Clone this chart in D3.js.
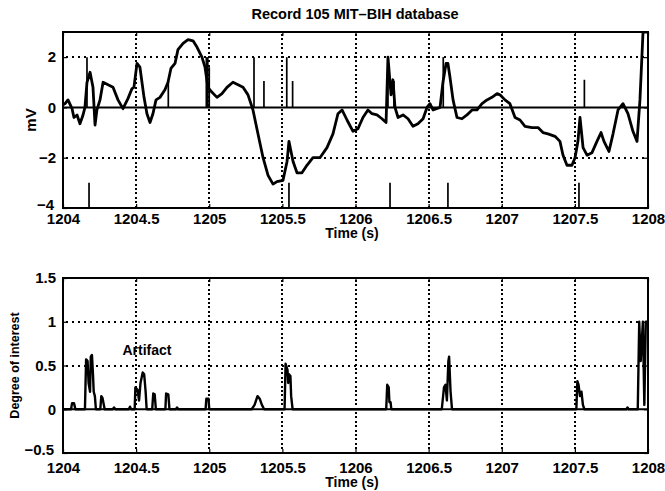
<!doctype html>
<html lang="en">
<head>
<meta charset="utf-8">
<title>Record 105 MIT-BIH database</title>
<script src="https://d3js.org/d3.v7.min.js"></script>
<style>
  body { margin: 0; background: #fff; }
  svg text { font-family: "Liberation Sans", Arial, sans-serif; font-weight: bold; fill: #000; }
</style>
</head>
<body>
<svg></svg>
<script>
// time axis (s)
var xTicks = [1204, 1204.5, 1205, 1205.5, 1206, 1206.5, 1207, 1207.5, 1208];
var ecgTicks = [-4, -2, 0, 2];
var doiTicks = [-0.5, 0, 0.5, 1, 1.5];

// ECG trace, record 105 (mV)
var ecgTime = [1204.000, 1204.014, 1204.034, 1204.062, 1204.075, 1204.096, 1204.116, 1204.137, 1204.150, 1204.164,
  1204.185, 1204.205, 1204.219, 1204.232, 1204.253, 1204.274, 1204.308, 1204.342, 1204.376, 1204.410,
  1204.444, 1204.472, 1204.485, 1204.506, 1204.526, 1204.554, 1204.574, 1204.595, 1204.615, 1204.636,
  1204.663, 1204.697, 1204.718, 1204.738, 1204.766, 1204.786, 1204.821, 1204.855, 1204.889, 1204.916,
  1204.950, 1204.971, 1204.991, 1205.019, 1205.053, 1205.087, 1205.121, 1205.162, 1205.197, 1205.231,
  1205.265, 1205.299, 1205.333, 1205.368, 1205.402, 1205.436, 1205.463, 1205.504, 1205.532, 1205.545,
  1205.573, 1205.600, 1205.634, 1205.668, 1205.709, 1205.757, 1205.805, 1205.846, 1205.880, 1205.908,
  1205.942, 1205.983, 1206.017, 1206.051, 1206.085, 1206.113, 1206.147, 1206.181, 1206.209, 1206.222,
  1206.243, 1206.256, 1206.270, 1206.291, 1206.325, 1206.359, 1206.393, 1206.427, 1206.462, 1206.489,
  1206.509, 1206.530, 1206.578, 1206.598, 1206.619, 1206.632, 1206.646, 1206.667, 1206.694, 1206.728,
  1206.762, 1206.797, 1206.831, 1206.865, 1206.899, 1206.933, 1206.968, 1206.988, 1207.022, 1207.056,
  1207.091, 1207.125, 1207.159, 1207.207, 1207.248, 1207.282, 1207.316, 1207.364, 1207.398, 1207.419,
  1207.446, 1207.480, 1207.501, 1207.521, 1207.535, 1207.556, 1207.583, 1207.617, 1207.651, 1207.679,
  1207.699, 1207.733, 1207.761, 1207.795, 1207.829, 1207.863, 1207.897, 1207.925, 1207.945, 1207.966,
  1207.993];
var ecgValue = [0.1, 0.15, 0.3, -0.05, -0.4, -0.3, -0.65, -0.3, 0.0, 1.0,
  1.4, 0.8, -0.7, -0.1, 0.3, 1.0, 0.9, 0.8, 0.3, -0.05,
  0.35, 0.75, 0.8, 1.75, 1.6, 0.4, -0.25, -0.6, -0.25, 0.3,
  0.4, 0.7, 1.0, 1.55, 1.75, 2.3, 2.55, 2.7, 2.65, 2.4,
  2.0, 1.6, 0.8, 0.6, 0.4, 0.55, 0.8, 1.0, 0.9, 0.8,
  0.5, -0.1, -1.05, -2.0, -2.7, -3.05, -2.95, -2.9, -2.15, -1.35,
  -2.15, -2.6, -2.6, -2.3, -2.0, -2.0, -1.6, -1.05, -0.25, -0.1,
  -0.5, -0.95, -0.85, -0.4, -0.1, -0.25, -0.3, -0.45, -0.6, 2.0,
  0.5, 1.1, 0.0, -0.4, -0.3, -0.45, -0.75, -0.65, -0.45, 0.0,
  0.15, -0.1, 0.0, 1.0, 1.75, 1.75, 1.2, 0.3, -0.4, -0.45,
  -0.3, -0.1, -0.1, 0.15, 0.3, 0.4, 0.55, 0.5, 0.3, 0.15,
  -0.4, -0.5, -0.75, -0.8, -0.8, -1.0, -1.05, -1.15, -1.35, -1.9,
  -2.3, -2.3, -2.0, -1.35, -0.4, -1.6, -1.9, -1.8, -1.35, -1.0,
  -1.35, -1.75, -1.05, -0.1, 0.15, -0.25, -0.95, -1.35, 0.3, 3.0,
  3.0];

// detection marks above zero line (mV height)
var detectTime = [1204.164, 1204.720, 1204.980, 1204.990, 1205.000, 1205.306, 1205.374, 1205.530, 1205.570,
  1206.222, 1206.263, 1206.600, 1207.565];
var detectHeight = [2, 1.05, 2, 2, 1.6, 2, 1.05, 2, 1.05, 2, 1.05, 2, 1.1];

// annotated beats, drawn from -4 to -3
var beatTime = [1204.178, 1205.545, 1206.236, 1206.632, 1207.528];

// degree of interest
var doiTime = [1204.000, 1204.055, 1204.062, 1204.075, 1204.085, 1204.150, 1204.158, 1204.168, 1204.175, 1204.185,
  1204.190, 1204.198, 1204.205, 1204.210, 1204.218, 1204.225, 1204.255, 1204.262, 1204.270, 1204.285,
  1204.340, 1204.349, 1204.358, 1204.450, 1204.458, 1204.466, 1204.490, 1204.495, 1204.510, 1204.520,
  1204.530, 1204.545, 1204.555, 1204.565, 1204.572, 1204.610, 1204.617, 1204.627, 1204.635, 1204.700,
  1204.705, 1204.720, 1204.728, 1204.772, 1204.780, 1204.788, 1204.975, 1204.980, 1204.995, 1205.000,
  1205.290, 1205.310, 1205.330, 1205.345, 1205.360, 1205.375, 1205.515, 1205.522, 1205.535, 1205.540,
  1205.545, 1205.555, 1205.560, 1205.570, 1206.210, 1206.217, 1206.227, 1206.232, 1206.240, 1206.245,
  1206.590, 1206.605, 1206.615, 1206.625, 1206.635, 1206.640, 1206.650, 1206.660, 1207.510, 1207.517,
  1207.525, 1207.535, 1207.545, 1207.555, 1207.565, 1207.852, 1207.860, 1207.868, 1207.930, 1207.940,
  1207.950, 1207.965, 1207.975, 1207.985, 1208.000];
var doiValue = [0, 0, 0.07, 0.07, 0, 0, 0.57, 0.55, 0.3, 0.2,
  0.6, 0.62, 0.4, 0.2, 0.15, 0, 0, 0.15, 0.13, 0,
  0, 0.02, 0, 0, 0.03, 0, 0, 0.25, 0.22, 0.1,
  0.3, 0.42, 0.4, 0.2, 0, 0, 0.18, 0.17, 0, 0,
  0.18, 0.17, 0, 0, 0.02, 0, 0, 0.12, 0.12, 0,
  0, 0.05, 0.15, 0.12, 0.05, 0, 0, 0.52, 0.45, 0.3,
  0.4, 0.38, 0.15, 0, 0, 0.28, 0.25, 0.08, 0.08, 0,
  0, 0.25, 0.28, 0.1, 0.55, 0.6, 0.2, 0, 0, 0.32,
  0.28, 0.15, 0.2, 0.05, 0, 0, 0.02, 0, 0, 1.0,
  0.55, 1.0, 0.05, 1.0, 1.0];

var W = 665, H = 491;
var svg = d3.select("svg").attr("width", W).attr("height", H);

var left = 63, right = 648;
var x = d3.scaleLinear().domain([1204, 1208]).range([left, right]);
var fmt = function(d){ return String(d).replace("-", "\u2212"); };

function panel(top, bottom, domain, yTicks, ylabel, ylabelX, xLabelGap, clipId) {
  var y = d3.scaleLinear().domain(domain).range([bottom, top]);
  var g = svg.append("g");
  var inner = yTicks.filter(function(d){ return d != 0 && d != domain[0] && d != domain[1]; });

  // dotted grid, drawn as little squares
  var grid = g.append("g").attr("fill", "#000");
  xTicks.slice(1, -1).forEach(function(t){
    var gx = Math.round(x(t));
    grid.selectAll(null).data(d3.range(top + 2, bottom - 1, 4.4)).enter().append("rect")
      .attr("x", gx - 1).attr("y", function(v){ return Math.round(v); })
      .attr("width", 2).attr("height", 2);
  });
  inner.forEach(function(v){
    var gy = Math.round(y(v));
    grid.selectAll(null).data(d3.range(left + 3, right - 1, 6)).enter().append("rect")
      .attr("x", function(u){ return Math.round(u); }).attr("y", gy - 1)
      .attr("width", 2).attr("height", 2);
  });
  // zero line
  g.append("line").attr("x1", left).attr("x2", right).attr("y1", y(0)).attr("y2", y(0))
    .attr("stroke", "#000").attr("stroke-width", 2);

  svg.append("clipPath").attr("id", clipId).append("rect")
    .attr("x", left).attr("y", top).attr("width", right - left).attr("height", bottom - top);

  // axes, ticks pointing inward
  g.append("g").attr("transform", "translate(0," + bottom + ")")
    .call(d3.axisBottom(x).tickValues(xTicks).tickSize(-4).tickPadding(xLabelGap).tickFormat(fmt));
  var ya = g.append("g").attr("transform", "translate(" + left + ",0)")
    .call(d3.axisLeft(y).tickValues(yTicks).tickSize(-4).tickPadding(7).tickFormat(fmt));
  // lowest y label sits a bit higher, clear of the first time label
  ya.selectAll(".tick text").filter(function(d){ return d == domain[0]; })
    .attr("dy", "0.1em").attr("dx", "-2");
  g.append("g").attr("transform", "translate(0," + top + ")")
    .call(d3.axisTop(x).tickValues(xTicks).tickSize(-4).tickFormat(""));
  g.append("g").attr("transform", "translate(" + right + ",0)")
    .call(d3.axisRight(y).tickValues(yTicks).tickSize(-4).tickFormat(""));
  g.selectAll(".domain").remove();
  g.selectAll(".tick line").attr("stroke", "#000").attr("stroke-width", 1.2);
  g.selectAll(".tick text").attr("font-size", 15).attr("font-family", "Liberation Sans, Arial, sans-serif")
    .attr("font-weight", "bold");

  g.append("rect").attr("x", left).attr("y", top).attr("width", right - left).attr("height", bottom - top)
    .attr("fill", "none").attr("stroke", "#000").attr("stroke-width", 2);

  g.append("text").attr("x", 352).attr("y", bottom + xLabelGap + 25)
    .attr("text-anchor", "middle").attr("font-size", 14).text("Time (s)");
  g.append("text").attr("transform", "translate(" + ylabelX + "," + ((top + bottom) / 2) + ") rotate(-90)")
    .attr("text-anchor", "middle").attr("font-size", ylabel == "mV" ? 15 : 12.5).text(ylabel);
  return {g: g, y: y};
}

// top panel: ECG
var p1 = panel(32, 208, [-4, 3], ecgTicks, "mV", 36, 5, "clipTop");
var plot1 = p1.g.append("g").attr("clip-path", "url(#clipTop)");
plot1.selectAll(".det").data(detectTime).enter().append("line")
  .attr("x1", x).attr("x2", x)
  .attr("y1", p1.y(0)).attr("y2", function(d, i){ return p1.y(detectHeight[i]); })
  .attr("stroke", "#000").attr("stroke-width", 1.7);
plot1.selectAll(".beat").data(beatTime).enter().append("line")
  .attr("x1", x).attr("x2", x)
  .attr("y1", p1.y(-4)).attr("y2", p1.y(-3))
  .attr("stroke", "#000").attr("stroke-width", 1.7);
plot1.append("path")
  .datum(d3.range(ecgTime.length))
  .attr("fill", "none").attr("stroke", "#000").attr("stroke-width", 2.8).attr("stroke-linejoin", "round")
  .attr("d", d3.line().x(function(i){ return x(ecgTime[i]); }).y(function(i){ return p1.y(ecgValue[i]); }));

// bottom panel: degree of interest
var p2 = panel(278, 453, [-0.5, 1.5], doiTicks, "Degree of interest", 19, 9, "clipBot");
var plot2 = p2.g.append("g").attr("clip-path", "url(#clipBot)");
plot2.append("path")
  .datum(d3.range(doiTime.length))
  .attr("fill", "none").attr("stroke", "#000").attr("stroke-width", 2.4).attr("stroke-linejoin", "round")
  .attr("d", d3.line().x(function(i){ return x(doiTime[i]); }).y(function(i){ return p2.y(doiValue[i]); }));
p2.g.append("text").attr("x", 147).attr("y", 355).attr("text-anchor", "middle")
  .attr("font-size", 14).text("Artifact");

// title
svg.append("text").attr("x", 355).attr("y", 19).attr("text-anchor", "middle")
  .attr("font-size", 14.5).text("Record 105 MIT\u2013BIH database");
</script>
</body>
</html>
